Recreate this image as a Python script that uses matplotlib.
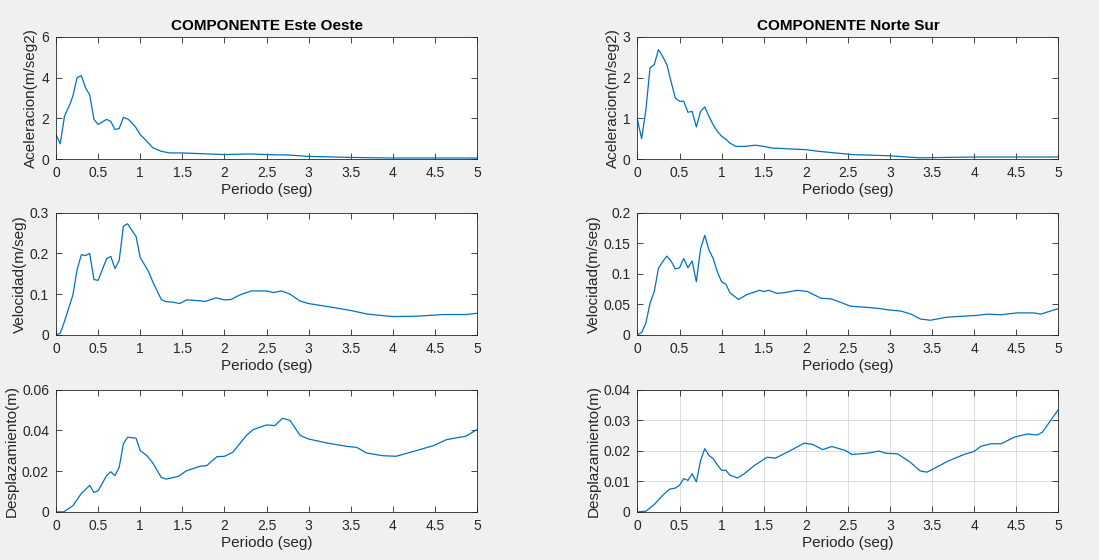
import numpy as np
import matplotlib
matplotlib.use("Agg")
import matplotlib.pyplot as plt

plt.rcParams['font.family'] = ['Liberation Sans', 'DejaVu Sans']

# ---- componente Este Oeste ----
t_acc_eo = [0, 0.05, 0.1, 0.17, 0.2, 0.25, 0.3, 0.35, 0.4, 0.45, 0.5, 0.6, 0.65, 0.7, 0.75,
            0.8, 0.86, 0.94, 1.0, 1.08, 1.15, 1.25, 1.35, 1.5, 1.8, 2.0, 2.3, 2.5, 2.75, 3.0,
            3.5, 4.0, 4.5, 5.0]
acc_eo = [1.2, 0.75, 2.1, 2.75, 3.1, 4.0, 4.1, 3.5, 3.15, 1.95, 1.7, 1.95, 1.85, 1.45, 1.5,
          2.05, 1.95, 1.6, 1.2, 0.87, 0.55, 0.38, 0.3, 0.3, 0.25, 0.22, 0.25, 0.22, 0.2, 0.13,
          0.08, 0.05, 0.05, 0.05]

t_vel_eo = [0, 0.05, 0.1, 0.2, 0.25, 0.3, 0.35, 0.4, 0.45, 0.5, 0.6, 0.65, 0.7, 0.75, 0.8,
            0.85, 0.9, 0.95, 1.0, 1.1, 1.15, 1.25, 1.3, 1.4, 1.47, 1.55, 1.7, 1.77, 1.9, 2.0,
            2.08, 2.18, 2.32, 2.5, 2.58, 2.68, 2.78, 2.9, 3.0, 3.3, 3.5, 3.7, 4.0, 4.3, 4.6,
            4.87, 5.0]
vel_eo = [0, 0.004, 0.033, 0.098, 0.16, 0.197, 0.195, 0.2, 0.136, 0.134, 0.187, 0.193, 0.163,
          0.183, 0.267, 0.273, 0.257, 0.242, 0.19, 0.155, 0.13, 0.087, 0.082, 0.08, 0.077,
          0.086, 0.084, 0.082, 0.091, 0.086, 0.087, 0.098, 0.108, 0.108, 0.104, 0.108, 0.1,
          0.083, 0.077, 0.067, 0.06, 0.051, 0.045, 0.046, 0.05, 0.05, 0.053]

t_des_eo = [0, 0.09, 0.2, 0.3, 0.4, 0.45, 0.5, 0.6, 0.65, 0.7, 0.75, 0.8, 0.85, 0.95, 1.0,
            1.08, 1.15, 1.25, 1.31, 1.45, 1.55, 1.71, 1.79, 1.91, 2.0, 2.1, 2.26, 2.34, 2.5,
            2.6, 2.69, 2.78, 2.9, 3.0, 3.21, 3.45, 3.57, 3.69, 3.88, 4.04, 4.28, 4.48, 4.64,
            4.87, 5.0]
des_eo = [0, 0, 0.003, 0.009, 0.013, 0.0095, 0.0104, 0.0178, 0.0197, 0.0178, 0.0219, 0.0334,
          0.0367, 0.0362, 0.0301, 0.0276, 0.024, 0.0169, 0.0161, 0.0174, 0.0202, 0.0224,
          0.0227, 0.0271, 0.0273, 0.0293, 0.0375, 0.0404, 0.0427, 0.0424, 0.046, 0.0449,
          0.0375, 0.0358, 0.0339, 0.0322, 0.0317, 0.0289, 0.0276, 0.0273, 0.0301, 0.0325,
          0.0355, 0.0372, 0.0404]

# ---- componente Norte Sur ----
t_acc_ns = [0, 0.05, 0.1, 0.15, 0.2, 0.25, 0.3, 0.35, 0.4, 0.45, 0.5, 0.55, 0.6, 0.65, 0.7,
            0.75, 0.8, 0.85, 0.9, 0.95, 1.0, 1.05, 1.1, 1.17, 1.27, 1.4, 1.5, 1.6, 1.8, 2.0,
            2.15, 2.35, 2.55, 3.0, 3.35, 4.0, 5.0]
acc_ns = [0.97, 0.5, 1.2, 2.24, 2.32, 2.69, 2.52, 2.32, 1.9, 1.5, 1.42, 1.42, 1.15, 1.17, 0.79,
          1.17, 1.28, 1.05, 0.84, 0.68, 0.56, 0.49, 0.39, 0.31, 0.31, 0.34, 0.31, 0.27, 0.25,
          0.23, 0.19, 0.15, 0.11, 0.08, 0.03, 0.05, 0.05]

t_vel_ns = [0, 0.05, 0.1, 0.15, 0.2, 0.25, 0.3, 0.35, 0.4, 0.45, 0.5, 0.55, 0.6, 0.65, 0.7,
            0.75, 0.8, 0.85, 0.9, 0.95, 1.0, 1.05, 1.1, 1.2, 1.3, 1.45, 1.5, 1.56, 1.66, 1.74,
            1.9, 2.02, 2.18, 2.3, 2.42, 2.53, 2.73, 2.89, 2.97, 3.13, 3.25, 3.36, 3.48, 3.68,
            3.92, 4.04, 4.16, 4.32, 4.51, 4.71, 4.79, 5.0]
vel_ns = [0, 0.004, 0.019, 0.052, 0.071, 0.109, 0.12, 0.129, 0.121, 0.108, 0.11, 0.125, 0.11,
          0.121, 0.087, 0.141, 0.163, 0.139, 0.125, 0.103, 0.087, 0.083, 0.069, 0.058, 0.066,
          0.073, 0.071, 0.073, 0.068, 0.069, 0.073, 0.071, 0.06, 0.059, 0.053, 0.047, 0.045,
          0.043, 0.041, 0.039, 0.034, 0.026, 0.024, 0.029, 0.031, 0.032, 0.034, 0.033, 0.036,
          0.036, 0.034, 0.043]

t_des_ns = [0, 0.1, 0.2, 0.3, 0.38, 0.45, 0.5, 0.55, 0.6, 0.65, 0.7, 0.75, 0.8, 0.85, 0.9,
            0.95, 1.0, 1.05, 1.1, 1.19, 1.27, 1.39, 1.48, 1.54, 1.64, 1.74, 1.82, 1.98, 2.08,
            2.2, 2.31, 2.47, 2.55, 2.73, 2.87, 2.95, 3.09, 3.23, 3.36, 3.44, 3.56, 3.68, 3.88,
            4.0, 4.08, 4.2, 4.32, 4.48, 4.63, 4.75, 4.81, 5.0]
des_ns = [0, 0.0002, 0.0024, 0.0054, 0.0074, 0.0078, 0.0087, 0.0109, 0.0103, 0.0125, 0.0098,
          0.0168, 0.0207, 0.0185, 0.0174, 0.0154, 0.0136, 0.0136, 0.012, 0.0111, 0.0125,
          0.0152, 0.0168, 0.0179, 0.0176, 0.019, 0.0201, 0.0225, 0.0221, 0.0204, 0.0214,
          0.0201, 0.0188, 0.0192, 0.0199, 0.0192, 0.019, 0.0165, 0.0134, 0.013, 0.0147,
          0.0165, 0.0188, 0.0198, 0.0215, 0.0223, 0.0223, 0.0245, 0.0255, 0.0252, 0.0261,
          0.0335]

xticks = [0, 0.5, 1, 1.5, 2, 2.5, 3, 3.5, 4, 4.5, 5]
xticklabels = ['0', '0.5', '1', '1.5', '2', '2.5', '3', '3.5', '4', '4.5', '5']

fig = plt.figure(figsize=(10.99, 5.6), dpi=100, facecolor='#f0f0f0')

left_x, right_x, w = 0.051, 0.580, 0.383
rows_y = [0.716, 0.402, 0.086]
h = 0.218

paneles = [
    (left_x, rows_y[0], t_acc_eo, acc_eo, 'Aceleracion(m/seg2)', [0, 2, 4, 6], ['0', '2', '4', '6'], 'COMPONENTE Este Oeste', False),
    (left_x, rows_y[1], t_vel_eo, vel_eo, 'Velocidad(m/seg)', [0, 0.1, 0.2, 0.3], ['0', '0.1', '0.2', '0.3'], None, False),
    (left_x, rows_y[2], t_des_eo, des_eo, 'Desplazamiento(m)', [0, 0.02, 0.04, 0.06], ['0', '0.02', '0.04', '0.06'], None, False),
    (right_x, rows_y[0], t_acc_ns, acc_ns, 'Aceleracion(m/seg2)', [0, 1, 2, 3], ['0', '1', '2', '3'], 'COMPONENTE Norte Sur', False),
    (right_x, rows_y[1], t_vel_ns, vel_ns, 'Velocidad(m/seg)', [0, 0.05, 0.1, 0.15, 0.2], ['0', '0.05', '0.1', '0.15', '0.2'], None, False),
    (right_x, rows_y[2], t_des_ns, des_ns, 'Desplazamiento(m)', [0, 0.01, 0.02, 0.03, 0.04], ['0', '0.01', '0.02', '0.03', '0.04'], None, True),
]

gris = '#262626'
for x0, y0, t, v, ylab, yt, ytl, titulo, grid in paneles:
    ax = fig.add_axes([x0, y0, w, h])
    ax.plot(t, v, color='#0072BD', linewidth=0.9)
    ax.set_xlim(0, 5)
    ax.set_ylim(yt[0], yt[-1])
    ax.set_xticks(xticks)
    ax.set_xticklabels(xticklabels)
    ax.set_yticks(yt)
    ax.set_yticklabels(ytl)
    ax.tick_params(direction='in', top=True, right=True, length=4, width=0.6,
                   labelsize=10, colors=gris, pad=5)
    for s in ax.spines.values():
        s.set_color(gris)
        s.set_linewidth(0.6)
    ax.set_xlabel('Periodo (seg)', fontsize=11, color=gris, labelpad=2)
    ax.set_ylabel(ylab, fontsize=11, color=gris, labelpad=2)
    if titulo:
        ax.set_title(titulo, fontsize=11, fontweight='bold', color='black', pad=5)
    if grid:
        ax.grid(True, color='#dcdcdc', linewidth=0.7)
        ax.set_axisbelow(True)

fig.savefig('out.png', dpi=100, facecolor=fig.get_facecolor())
